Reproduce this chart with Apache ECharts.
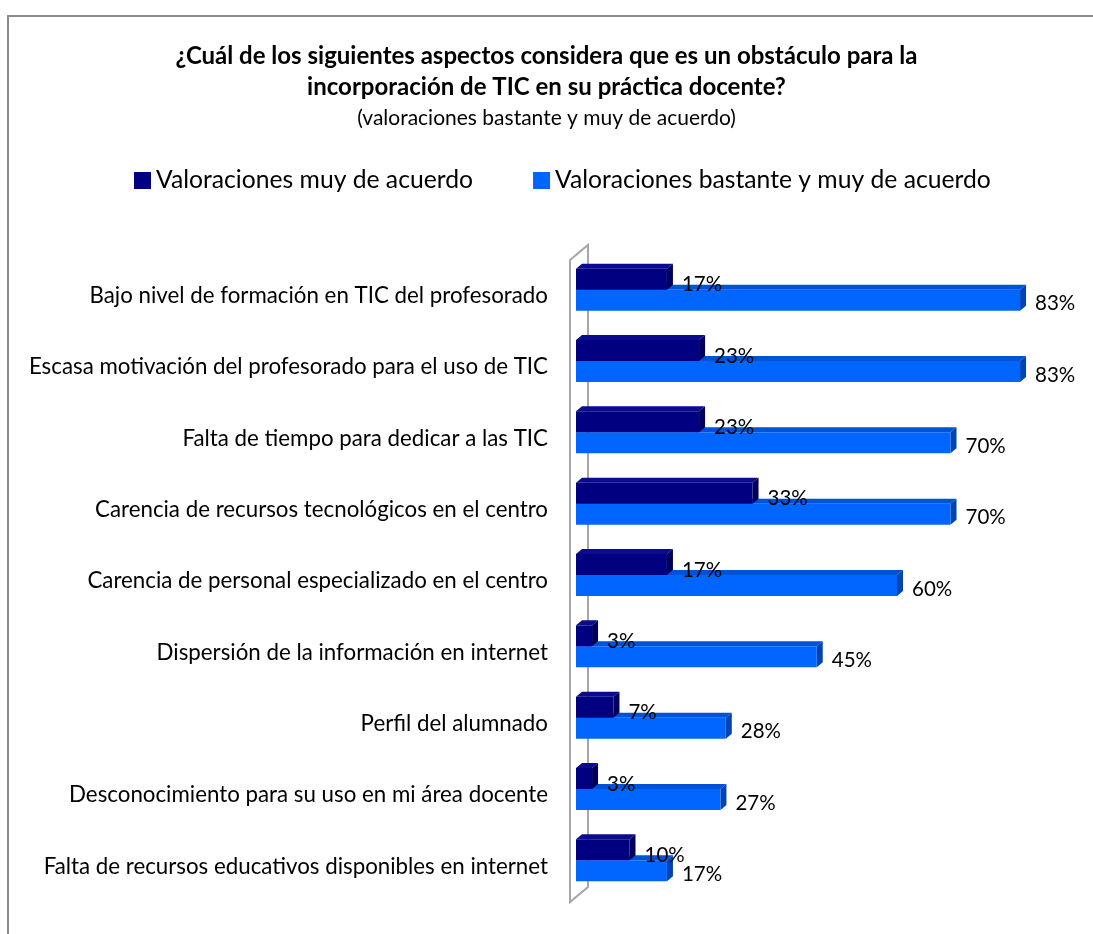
<!DOCTYPE html>
<html>
<head>
<meta charset="utf-8">
<script src="https://cdn.jsdelivr.net/npm/echarts@6/dist/echarts.min.js"></script>
<style>
  html, body { margin: 0; padding: 0; background: #fff; }
  #chart { width: 1093px; height: 934px; }
</style>
</head>
<body>
<div id="chart"></div>
<script>
// Obstacles to incorporating ICT in teaching practice
const categories = [
  'Bajo nivel de formación en TIC del profesorado',
  'Escasa motivación del profesorado para el uso de TIC',
  'Falta de tiempo para dedicar a las TIC',
  'Carencia de recursos tecnológicos en el centro',
  'Carencia de personal especializado en el centro',
  'Dispersión de la información en internet',
  'Perfil del alumnado',
  'Desconocimiento para su uso en mi área docente',
  'Falta de recursos educativos disponibles en internet'
];
const muyDeAcuerdo = [17, 23, 23, 33, 17, 3, 7, 3, 10];
const bastanteYMuy = [83, 83, 70, 70, 60, 45, 28, 27, 17];
const seriesNames = ['Valoraciones muy de acuerdo', 'Valoraciones bastante y muy de acuerdo'];

const FONT = 'Lato, "Open Sans", sans-serif';

// 3D-looking horizontal bar: front face, top face and right side face
function bar3d(colors, upper) {
  return function (params, api) {
    const idx = api.value(1);
    const val = api.value(0);
    const p0 = api.coord([0, idx]);
    const p1 = api.coord([val, idx]);
    const c = p0[1];
    const x0 = p0[0], x1 = p1[0];
    const h = 21, dx = 6, dy = 5;
    const yTop = upper ? c - 27 : c - 6;
    const yBot = yTop + h;
    return {
      type: 'group',
      children: [
        { type: 'polygon', shape: { points: [[x0, yTop], [x0 + dx, yTop - dy], [x1 + dx, yTop - dy], [x1, yTop]] },
          style: { fill: colors.top } },
        { type: 'polygon', shape: { points: [[x1, yTop], [x1 + dx, yTop - dy], [x1 + dx, yBot - dy], [x1, yBot]] },
          style: { fill: colors.side } },
        { type: 'rect', shape: { x: x0, y: yTop, width: x1 - x0, height: h },
          style: { fill: colors.front } },
        { type: 'text', style: {
            x: x1 + 15, y: upper ? c - 11 : c + 8,
            text: val + '%', fill: '#000', font: '20.5px ' + FONT,
            verticalAlign: 'middle', align: 'left' } }
      ]
    };
  };
}

// Side wall behind the category axis
function wall(params) {
  const cs = params.coordSys;
  const fx = cs.x - 6, top = cs.y, bot = cs.y + cs.height;
  const bx = fx + 18, by = 15;
  return {
    type: 'polygon',
    shape: { points: [[fx, top], [bx, top - by], [bx, bot - by], [fx, bot]] },
    style: { fill: 'none', stroke: '#a6a6a6', lineWidth: 2 }
  };
}

const chart = echarts.init(document.getElementById('chart'), null, { renderer: 'canvas' });

chart.setOption({
  backgroundColor: '#ffffff',
  animation: false,
  textStyle: { fontFamily: FONT },
  title: {
    text: '¿Cuál de los siguientes aspectos considera que es un obstáculo para la\nincorporación de TIC en su práctica docente?',
    subtext: '(valoraciones bastante y muy de acuerdo)',
    left: 'center',
    top: 36,
    itemGap: 0,
    textStyle: { fontFamily: FONT, fontSize: 24, fontWeight: 'bold', color: '#000', lineHeight: 31 },
    subtextStyle: { fontFamily: FONT, fontSize: 21, color: '#000', lineHeight: 31 }
  },
  legend: {
    left: 129,
    top: 163,
    itemWidth: 17,
    itemHeight: 17,
    itemGap: 60,
    icon: 'rect',
    textStyle: { fontFamily: FONT, fontSize: 24.7, color: '#000' },
    data: seriesNames
  },
  graphic: [
    { type: 'rect', shape: { x: 8, y: 16, width: 1200, height: 1000 },
      style: { fill: 'none', stroke: '#8c8c8c', lineWidth: 2 }, silent: true, z: -10 }
  ],
  grid: { left: 576, top: 260, width: 481.5, height: 642 },
  xAxis: { type: 'value', min: 0, max: 90, show: false },
  yAxis: {
    type: 'category',
    data: categories,
    inverse: true,
    axisLine: { show: false },
    axisTick: { show: false },
    axisLabel: { margin: 28, fontSize: 22.3, color: '#000', fontFamily: FONT }
  },
  series: [
    { type: 'custom', name: 'wall', renderItem: wall, data: [[0, 0]], z: 1, silent: true,
      encode: { x: 0, y: 1 } },
    { type: 'custom', name: seriesNames[1], z: 2,
      itemStyle: { color: '#0066ff' },
      renderItem: bar3d({ front: '#0066ff', top: '#0052d6', side: '#0044b4' }, false),
      encode: { x: 0, y: 1 },
      data: bastanteYMuy.map((v, i) => [v, i]) },
    { type: 'custom', name: seriesNames[0], z: 3,
      itemStyle: { color: '#000080' },
      renderItem: bar3d({ front: '#000080', top: '#0b0b90', side: '#00005c' }, true),
      encode: { x: 0, y: 1 },
      data: muyDeAcuerdo.map((v, i) => [v, i]) }
  ]
});
</script>
</body>
</html>
